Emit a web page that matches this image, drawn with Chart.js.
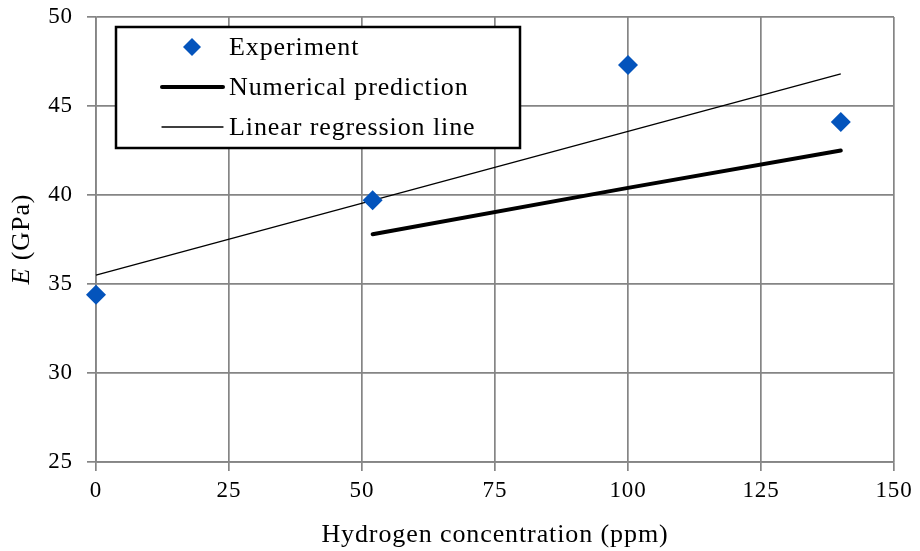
<!DOCTYPE html>
<html>
<head>
<meta charset="utf-8">
<script src="https://cdn.jsdelivr.net/npm/chart.js@4"></script>
<style>
  html, body { margin: 0; padding: 0; background: #fff; }
  #wrap { width: 920px; height: 551px; }
</style>
</head>
<body>
<div id="wrap"><canvas id="c" width="920" height="551"></canvas></div>
<script>
// hydrogen content (ppm) and Young's modulus (GPa)
const expX = [0, 52, 100, 140]
const expY = [34.4, 39.7, 47.3, 44.1]
const numX = [52, 100, 140]
const numY = [37.8, 40.4, 42.5]
const regX = [0, 140]
const regY = [35.5, 46.8]
const seriesNames = ['Experiment', 'Numerical prediction', 'Linear regression line']

const pts = (xs, ys) => xs.map((x, i) => ({ x: x, y: ys[i] }))
const serif = "'Liberation Serif', 'Times New Roman', serif"
const spacing = '0.9px'

// wide glyph spacing for all text on the canvas
const spaced = {
  id: 'spaced',
  beforeInit(chart) { chart.ctx.letterSpacing = spacing },
  beforeDraw(chart) { chart.ctx.letterSpacing = spacing }
}

// legend box drawn inside the plot
const boxLegend = {
  id: 'boxLegend',
  afterDraw(chart) {
    const ctx = chart.ctx
    const left = 116, top = 27, w = 404, h = 121
    ctx.save()
    ctx.fillStyle = '#fff'
    ctx.fillRect(left, top, w, h)
    ctx.strokeStyle = '#000'
    ctx.lineWidth = 2.5
    ctx.strokeRect(left, top, w, h)
    ctx.font = '26px ' + serif
    ctx.letterSpacing = spacing
    ctx.textBaseline = 'middle'
    chart.data.datasets.forEach((ds, i) => {
      const y = top + 20 + i * 40
      if (ds.showLine === false) {
        ctx.fillStyle = ds.backgroundColor
        ctx.beginPath()
        ctx.moveTo(192, y - 9)
        ctx.lineTo(201, y)
        ctx.lineTo(192, y + 9)
        ctx.lineTo(183, y)
        ctx.closePath()
        ctx.fill()
      } else {
        ctx.strokeStyle = ds.borderColor
        ctx.lineWidth = ds.borderWidth
        ctx.lineCap = 'round'
        ctx.beginPath()
        ctx.moveTo(162, y)
        ctx.lineTo(223, y)
        ctx.stroke()
      }
      ctx.fillStyle = '#000'
      ctx.fillText(ds.label, 229, y + 1)
    })
    ctx.restore()
  }
}

// y axis title with an italic symbol
const yTitle = {
  id: 'yTitle',
  afterDraw(chart) {
    const ctx = chart.ctx
    ctx.save()
    ctx.translate(22, 239)
    ctx.rotate(-Math.PI / 2)
    ctx.fillStyle = '#000'
    ctx.letterSpacing = spacing
    ctx.textBaseline = 'middle'
    const a = 'E'
    const b = ' (GPa)'
    ctx.font = 'italic 26px ' + serif
    const wa = ctx.measureText(a).width
    ctx.font = '26px ' + serif
    const wb = ctx.measureText(b).width
    const x = -(wa + wb) / 2
    ctx.font = 'italic 26px ' + serif
    ctx.fillText(a, x, 0)
    ctx.font = '26px ' + serif
    ctx.fillText(b, x + wa, 0)
    ctx.restore()
  }
}

new Chart(document.getElementById('c'), {
  type: 'scatter',
  data: {
    datasets: [
      {
        label: seriesNames[0],
        data: pts(expX, expY),
        showLine: false,
        clip: false,
        pointStyle: 'rectRot',
        pointRadius: 10,
        backgroundColor: '#0454BC',
        borderColor: '#0454BC',
        borderWidth: 0
      },
      {
        label: seriesNames[1],
        data: pts(numX, numY),
        showLine: true,
        clip: false,
        borderColor: '#000',
        borderWidth: 4,
        pointRadius: 0,
        borderCapStyle: 'round'
      },
      {
        label: seriesNames[2],
        data: pts(regX, regY),
        showLine: true,
        clip: false,
        borderColor: '#000',
        borderWidth: 1.3,
        pointRadius: 0
      }
    ]
  },
  options: {
    responsive: false,
    animation: false,
    layout: { padding: { top: 17, right: 26, left: 0, bottom: 0 } },
    plugins: {
      legend: { display: false },
      tooltip: { enabled: false }
    },
    scales: {
      x: {
        type: 'linear',
        min: 0, max: 150,
        ticks: { stepSize: 25, color: '#000', padding: 6, font: { family: serif, size: 23 } },
        grid: { color: '#858585', lineWidth: 1.7, tickLength: 9, tickColor: '#858585' },
        border: { color: '#858585', width: 1.7 },
        title: {
          display: true,
          text: 'Hydrogen concentration (ppm)',
          color: '#000',
          font: { family: serif, size: 26 },
          padding: { top: 4, bottom: 0 }
        },
        afterFit(axis) {
          axis.height = 89
          axis.paddingLeft = 0
          axis.paddingRight = 0
        }
      },
      y: {
        min: 25, max: 50,
        ticks: { stepSize: 5, color: '#000', padding: 14, font: { family: serif, size: 23 } },
        grid: { color: '#858585', lineWidth: 1.7, tickLength: 9, tickColor: '#858585' },
        border: { color: '#858585', width: 1.7 },
        afterFit(axis) {
          axis.width = 96
          axis.paddingTop = 0
          axis.paddingBottom = 0
        }
      }
    }
  },
  plugins: [spaced, boxLegend, yTitle]
})
</script>
</body>
</html>
